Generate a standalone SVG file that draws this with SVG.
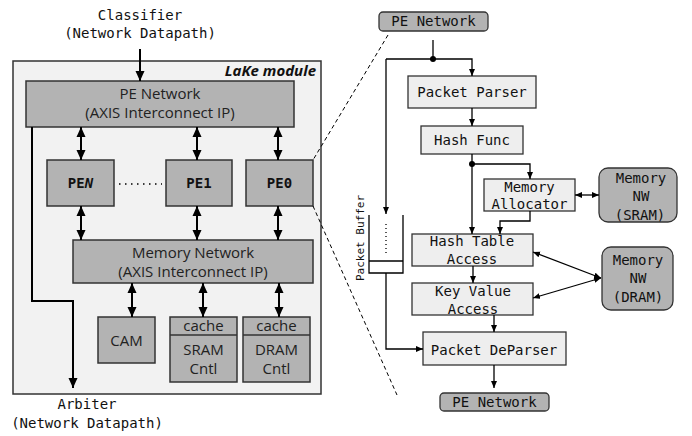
<svg xmlns="http://www.w3.org/2000/svg" width="692" height="436" viewBox="0 0 692 436">
  <defs>
    <marker id="bigArrow" markerUnits="userSpaceOnUse" markerWidth="10" markerHeight="10" refX="10" refY="5" orient="auto-start-reverse">
      <path d="M0,0.5 L10,5 L0,9.5 z" fill="#000"/>
    </marker>
    <marker id="smallArrow" markerUnits="userSpaceOnUse" markerWidth="7" markerHeight="7" refX="7" refY="3.5" orient="auto-start-reverse">
      <path d="M0,0.5 L7,3.5 L0,6.5 z" fill="#000"/>
    </marker>
    <style>
      .mono { font-family: "DejaVu Sans Mono", "Liberation Mono", monospace; font-size: 14px; fill: #111; }
      .sans { font-family: "Open Sans", "Noto Sans", sans-serif; font-size: 15px; fill: #222; }
      .pe { font-family: "DejaVu Sans Mono", "Liberation Mono", monospace; font-size: 14px; font-weight: bold; fill: #111; }
      .blk { fill: #b3b3b3; stroke: #333; stroke-width: 1.5; }
      .lite { fill: #eeeeee; stroke: #333; stroke-width: 1.3; }
      .rnd { fill: #b3b3b3; stroke: #333; stroke-width: 1.3; }
      .thick { fill: none; stroke: #000; stroke-width: 2; }
      .thin { fill: none; stroke: #000; stroke-width: 1.3; }
      .dash { fill: none; stroke: #000; stroke-width: 1; stroke-dasharray: 4 3; }
    </style>
  </defs>

  <!-- external labels of the module -->
  <g id="classifier">
    <text class="mono" x="140" y="20" text-anchor="middle">Classifier</text>
    <text class="mono" x="140" y="38" text-anchor="middle">(Network Datapath)</text>
  </g>
  <g id="arbiter">
    <text class="mono" x="87" y="409" text-anchor="middle">Arbiter</text>
    <text class="mono" x="87" y="428" text-anchor="middle">(Network Datapath)</text>
  </g>

  <!-- LaKe module container -->
  <g id="lake-module">
    <rect x="13" y="61" width="308" height="333" fill="#f2f2f2" stroke="#333" stroke-width="1.5"/>
    <text x="316" y="76" text-anchor="end" font-family="'Open Sans', 'Noto Sans', sans-serif" font-size="15" font-weight="bold" font-style="italic" fill="#111">LaKe module</text>
  </g>

  <g id="pe-network">
    <rect class="blk" x="26" y="81" width="268" height="46"/>
    <text class="sans" x="160" y="99" text-anchor="middle">PE Network</text>
    <text class="sans" x="160" y="118" text-anchor="middle">(AXIS Interconnect IP)</text>
  </g>

  <g id="pe-n">
    <rect class="blk" x="47" y="160" width="67" height="46"/>
    <text class="pe" x="80.5" y="188" text-anchor="middle">PE<tspan font-style="italic">N</tspan></text>
  </g>
  <g id="pe-1">
    <rect class="blk" x="166" y="160" width="66" height="46"/>
    <text class="pe" x="199" y="188" text-anchor="middle">PE1</text>
  </g>
  <g id="pe-0">
    <rect class="blk" x="246" y="160" width="67" height="46"/>
    <text class="pe" x="279.5" y="188" text-anchor="middle">PE0</text>
  </g>

  <g id="memory-network">
    <rect class="blk" x="73" y="240" width="240" height="43"/>
    <text class="sans" x="193" y="258" text-anchor="middle">Memory Network</text>
    <text class="sans" x="193" y="277" text-anchor="middle">(AXIS Interconnect IP)</text>
  </g>

  <g id="cam">
    <rect class="blk" x="98" y="317" width="57" height="46"/>
    <text class="sans" x="126.5" y="346" text-anchor="middle">CAM</text>
  </g>
  <g id="sram-cntl">
    <rect class="blk" x="170" y="317" width="67" height="65"/>
    <line x1="170" y1="335" x2="237" y2="335" stroke="#333" stroke-width="1.5"/>
    <text class="sans" x="203.5" y="331" text-anchor="middle">cache</text>
    <text class="sans" x="203.5" y="355" text-anchor="middle">SRAM</text>
    <text class="sans" x="203.5" y="374" text-anchor="middle">Cntl</text>
  </g>
  <g id="dram-cntl">
    <rect class="blk" x="243" y="317" width="67" height="65"/>
    <line x1="243" y1="335" x2="310" y2="335" stroke="#333" stroke-width="1.5"/>
    <text class="sans" x="276.5" y="331" text-anchor="middle">cache</text>
    <text class="sans" x="276.5" y="355" text-anchor="middle">DRAM</text>
    <text class="sans" x="276.5" y="374" text-anchor="middle">Cntl</text>
  </g>

  <!-- PE pipeline detail -->
  <g id="pe-network-in">
    <rect class="rnd" x="379" y="12" width="109" height="19" rx="4"/>
    <text class="mono" x="433.5" y="26" text-anchor="middle">PE Network</text>
  </g>
  <g id="packet-parser">
    <rect class="lite" x="408" y="76" width="128" height="32"/>
    <text class="mono" x="472" y="97" text-anchor="middle">Packet Parser</text>
  </g>
  <g id="hash-func">
    <rect class="lite" x="421" y="126" width="102" height="28"/>
    <text class="mono" x="472" y="145" text-anchor="middle">Hash Func</text>
  </g>
  <g id="memory-allocator">
    <rect class="lite" x="484" y="179" width="91" height="32"/>
    <text class="mono" x="529.5" y="192" text-anchor="middle">Memory</text>
    <text class="mono" x="529.5" y="209" text-anchor="middle">Allocator</text>
  </g>
  <g id="memory-nw-sram">
    <rect class="rnd" x="599" y="168" width="78" height="54" rx="9"/>
    <text class="mono" x="641" y="183" text-anchor="middle">Memory</text>
    <text class="mono" x="641" y="201" text-anchor="middle">NW</text>
    <text class="mono" x="640" y="220" text-anchor="middle">(SRAM)</text>
  </g>
  <g id="hash-table-access">
    <rect class="lite" x="412" y="234" width="121" height="32"/>
    <text class="mono" x="472" y="246" text-anchor="middle">Hash Table</text>
    <text class="mono" x="472" y="264" text-anchor="middle">Access</text>
  </g>
  <g id="memory-nw-dram">
    <rect class="rnd" x="602" y="247" width="71" height="63" rx="9"/>
    <text class="mono" x="638" y="265" text-anchor="middle">Memory</text>
    <text class="mono" x="638" y="283" text-anchor="middle">NW</text>
    <text class="mono" x="638" y="302" text-anchor="middle">(DRAM)</text>
  </g>
  <g id="key-value-access">
    <rect class="lite" x="412" y="283" width="121" height="32"/>
    <text class="mono" x="473" y="296" text-anchor="middle">Key Value</text>
    <text class="mono" x="473" y="314" text-anchor="middle">Access</text>
  </g>
  <g id="packet-deparser">
    <rect class="lite" x="423" y="332" width="143" height="33"/>
    <text class="mono" x="494" y="355" text-anchor="middle">Packet DeParser</text>
  </g>
  <g id="pe-network-out">
    <rect class="rnd" x="440" y="393" width="109" height="18" rx="4"/>
    <text class="mono" x="494.5" y="407" text-anchor="middle">PE Network</text>
  </g>
  <g id="packet-buffer">
    <path d="M369,215 V273 H403 V215" fill="none" stroke="#000" stroke-width="1.3"/>
    <line x1="369" y1="261" x2="403" y2="261" stroke="#000" stroke-width="1.3"/>
    <line x1="386" y1="224" x2="386" y2="253" stroke="#000" stroke-width="1.3" stroke-dasharray="1 3"/>
    <text x="0" y="0" transform="translate(364,238) rotate(-90)" text-anchor="middle" font-family="'DejaVu Sans Mono', 'Liberation Mono', monospace" font-size="11" fill="#111">Packet Buffer</text>
  </g>

  <!-- connectors -->
  <g id="connectors">
    <!-- module, thick -->
    <line class="thick" x1="140" y1="49" x2="140" y2="81" marker-end="url(#bigArrow)"/>
    <line class="thick" x1="81" y1="127" x2="81" y2="160" marker-start="url(#bigArrow)" marker-end="url(#bigArrow)"/>
    <line class="thick" x1="197" y1="127" x2="197" y2="160" marker-start="url(#bigArrow)" marker-end="url(#bigArrow)"/>
    <line class="thick" x1="278" y1="127" x2="278" y2="160" marker-start="url(#bigArrow)" marker-end="url(#bigArrow)"/>
    <line class="thick" x1="81" y1="206" x2="81" y2="240" marker-start="url(#bigArrow)" marker-end="url(#bigArrow)"/>
    <line class="thick" x1="197" y1="206" x2="197" y2="240" marker-start="url(#bigArrow)" marker-end="url(#bigArrow)"/>
    <line class="thick" x1="278" y1="206" x2="278" y2="240" marker-start="url(#bigArrow)" marker-end="url(#bigArrow)"/>
    <line class="thick" x1="132" y1="283" x2="132" y2="317" marker-start="url(#bigArrow)" marker-end="url(#bigArrow)"/>
    <line class="thick" x1="203" y1="283" x2="203" y2="317" marker-start="url(#bigArrow)" marker-end="url(#bigArrow)"/>
    <line class="thick" x1="279" y1="283" x2="279" y2="317" marker-start="url(#bigArrow)" marker-end="url(#bigArrow)"/>
    <path class="thick" d="M32,127 V301 H73 V388" marker-end="url(#bigArrow)"/>
    <line x1="119" y1="184" x2="162" y2="184" stroke="#000" stroke-width="1.5" stroke-dasharray="1.5 4.5"/>

    <!-- zoom guides -->
    <line class="dash" x1="388" y1="35" x2="313" y2="160"/>
    <line class="dash" x1="313" y1="206" x2="397" y2="395"/>

    <!-- pipeline, thin -->
    <line class="thin" x1="433" y1="40" x2="433" y2="59"/>
    <path class="thin" d="M386,59 H472 V76" marker-end="url(#smallArrow)"/>
    <circle cx="433" cy="59" r="3" fill="#000"/>
    <line class="thin" x1="386" y1="59" x2="386" y2="214" marker-end="url(#smallArrow)"/>
    <path class="thin" d="M386,273 V349 H423" marker-end="url(#smallArrow)"/>
    <line class="thin" x1="472" y1="108" x2="472" y2="126" marker-end="url(#smallArrow)"/>
    <line class="thin" x1="472" y1="154" x2="472" y2="234" marker-end="url(#smallArrow)"/>
    <circle cx="472" cy="164" r="3" fill="#000"/>
    <path class="thin" d="M472,164 H530 V179" marker-end="url(#smallArrow)"/>
    <path class="thin" d="M530,211 V221 H500 V234" marker-end="url(#smallArrow)"/>
    <line class="thin" x1="575" y1="195" x2="599" y2="195" marker-start="url(#smallArrow)" marker-end="url(#smallArrow)"/>
    <line class="thin" x1="533" y1="252" x2="601" y2="278" marker-start="url(#smallArrow)" marker-end="url(#smallArrow)"/>
    <line class="thin" x1="533" y1="298" x2="601" y2="278" marker-start="url(#smallArrow)" marker-end="url(#smallArrow)"/>
    <line class="thin" x1="473" y1="266" x2="473" y2="283" marker-end="url(#smallArrow)"/>
    <line class="thin" x1="494" y1="315" x2="494" y2="332" marker-end="url(#smallArrow)"/>
    <line class="thin" x1="494" y1="365" x2="494" y2="388" marker-end="url(#smallArrow)"/>
  </g>
</svg>
